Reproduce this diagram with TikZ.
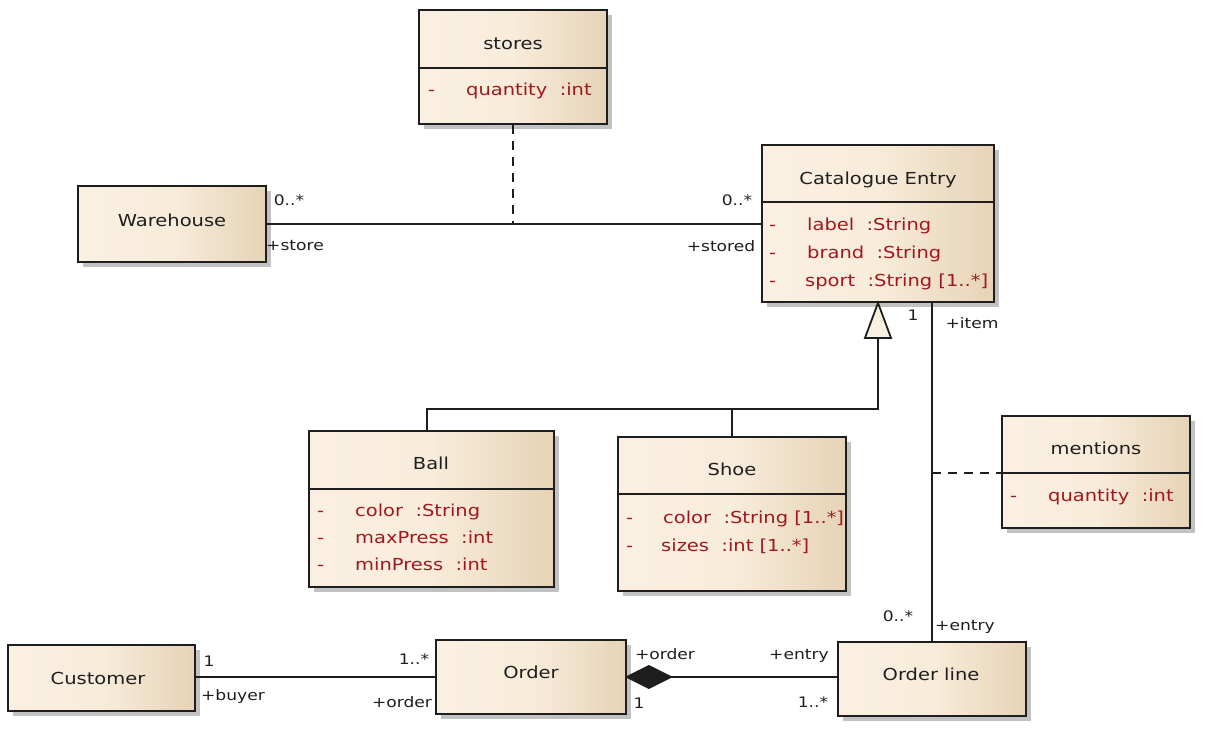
\documentclass[tikz,border=0pt]{standalone}
\usepackage{fontspec}
\setmainfont{DejaVu Sans}[FakeStretch=1.18]
\usetikzlibrary{shadows}
\definecolor{attr}{RGB}{160,24,30}
\definecolor{boxl}{RGB}{250,240,226}
\definecolor{boxm}{RGB}{248,236,218}
\definecolor{boxr}{RGB}{230,211,183}
\definecolor{ink}{RGB}{30,30,30}
\newcommand{\umlbox}[5]{%
  \node[umlbox, minimum width={#4-#2}, minimum height={#5-#3}] (#1) at ({(#2+#4)/2},{(#3+#5)/2}) {};}
\begin{document}
\begin{tikzpicture}[x=1pt,y=-1pt,
  umlbox/.style={draw=ink, line width=1.8pt, left color=boxl, right color=boxr, middle color=boxm,
    drop shadow={shadow xshift=5pt, shadow yshift=-5pt, fill=black!24, opacity=1}, inner sep=0pt},
  divider/.style={draw=ink, line width=1.6pt},
  title/.style={font=\fontsize{16.5}{20}\selectfont, text=ink, inner sep=0pt, text height=12pt, text depth=3.5pt, yshift=-2.5pt},
  att/.style={font=\fontsize{16.5}{20}\selectfont, text=attr, anchor=west, inner sep=0pt, text height=12pt, text depth=3.5pt, yshift=-2pt},
  lbl/.style={font=\fontsize{14.5}{17}\selectfont, text=ink, inner sep=0pt, text height=10.5pt, text depth=3pt, yshift=-1.5pt},
  conn/.style={draw=ink, line width=1.8pt},
  assocdash/.style={draw=ink, line width=1.6pt, dash pattern=on 9pt off 7pt},
]
\useasboundingbox (0,0) rectangle (1208,730);

% ---------- boxes ----------
\umlbox{stores}{419}{10}{607}{124}
\draw[divider] (419,68) -- (607,68);
\node[title] (storesT) at (513,43) {stores};
\node[att] (storesM) at (428,89) {-};
\node[att] (storesA) at (466,89) {quantity\ \ :int};

\umlbox{wh}{78}{186}{266}{262}
\node[title] (whT) at (172,220) {Warehouse};

\umlbox{ce}{762}{145}{994}{302}
\draw[divider] (762,202) -- (994,202);
\node[title] (ceT) at (878,178) {Catalogue Entry};
\node[att] (ceM1) at (769,224) {-};
\node[att] (ceM2) at (769,252) {-};
\node[att] (ceM3) at (769,280) {-};
\node[att] (ceA1) at (807,224) {label\ \ :String};
\node[att] (ceA2) at (807,252) {brand\ \ :String};
\node[att] (ceA3) at (805,280) {sport\ \ :String [1..*]};

\umlbox{ball}{309}{431}{554}{587}
\draw[divider] (309,489) -- (554,489);
\node[title] (ballT) at (431,463) {Ball};
\node[att] (ballM1) at (317,510) {-};
\node[att] (ballM2) at (317,537) {-};
\node[att] (ballM3) at (317,564) {-};
\node[att] (ballA1) at (355,510) {color\ \ :String};
\node[att] (ballA2) at (355,537) {maxPress\ \ :int};
\node[att] (ballA3) at (355,564) {minPress\ \ :int};

\umlbox{shoe}{618}{437}{846}{591}
\draw[divider] (618,494) -- (846,494);
\node[title] (shoeT) at (732,469) {Shoe};
\node[att] (shoeM1) at (626,517) {-};
\node[att] (shoeM2) at (626,545) {-};
\node[att] (shoeA1) at (663,517) {color\ \ :String [1..*]};
\node[att] (shoeA2) at (661,545) {sizes\ \ :int [1..*]};

\umlbox{mn}{1002}{416}{1190}{528}
\draw[divider] (1002,473) -- (1190,473);
\node[title] (mnT) at (1096,448) {mentions};
\node[att] (mnM) at (1010,495) {-};
\node[att] (mnA) at (1048,495) {quantity\ \ :int};

\umlbox{cu}{8}{645}{195}{711}
\node[title] (cuT) at (98,678) {Customer};

\umlbox{ord}{436}{640}{626}{714}
\node[title] (ordT) at (531,672) {Order};

\umlbox{ol}{838}{642}{1026}{716}
\node[title] (olT) at (931,674) {Order line};

% ---------- connectors ----------
\draw[conn] (wh.east) -- (wh.east -| ce.west);
\coordinate (sx) at (513,0);
\draw[assocdash] (stores.south) -- (wh.east -| sx);

% generalization
\coordinate (gx) at (878,0);
\coordinate (gy) at (0,409);
\coordinate (bx) at (427,0);
\coordinate (gtip) at (ce.south -| gx);
\coordinate (gbase) at ([yshift=-35pt]gtip);
\draw[conn] (gbase) -- (gy -| gx) -- (gy -| bx) -- (ball.north -| bx);
\draw[conn] (gy -| shoe.north) -- (shoe.north);
\draw[conn, fill=boxl, line join=miter] (gtip) -- ([xshift=13pt]gbase) -- ([xshift=-13pt]gbase) -- cycle;

% catalogue entry -- order line
\draw[conn] (ol.north) -- (ol.north |- ce.south);
\coordinate (my) at (0,473);
\draw[assocdash] (ol.north |- my) -- (mn.west |- my);

% customer -- order
\draw[conn] (ord.west) -- (ord.west -| cu.east);

% order -- order line (composition)
\coordinate (dtip) at (ord.east);
\draw[conn] ([xshift=44pt]dtip) -- (dtip -| ol.west);
\draw[conn, fill=ink, line join=miter] (dtip) -- ++(22,-11) -- ++(22,11) -- ++(-22,11) -- cycle;

% ---------- role / multiplicity labels ----------
\node[lbl] (l1) at (289,200) {0..*};
\node[lbl] (l2) at (295,245) {+store};
\node[lbl] (l3) at (737,200) {0..*};
\node[lbl] (l4) at (721,246) {+stored};
\node[lbl] (l5) at (913,315) {1};
\node[lbl] (l6) at (972,323) {+item};
\node[lbl] (l7) at (898,616) {0..*};
\node[lbl] (l8) at (965,625) {+entry};
\node[lbl] (l9) at (209,661) {1};
\node[lbl] (l10) at (233,695) {+buyer};
\node[lbl] (l11) at (414,659) {1..*};
\node[lbl] (l12) at (402,702) {+order};
\node[lbl] (l13) at (665,654) {+order};
\node[lbl] (l14) at (639,703) {1};
\node[lbl] (l15) at (799,654) {+entry};
\node[lbl] (l16) at (813,702) {1..*};
\end{tikzpicture}
\end{document}
